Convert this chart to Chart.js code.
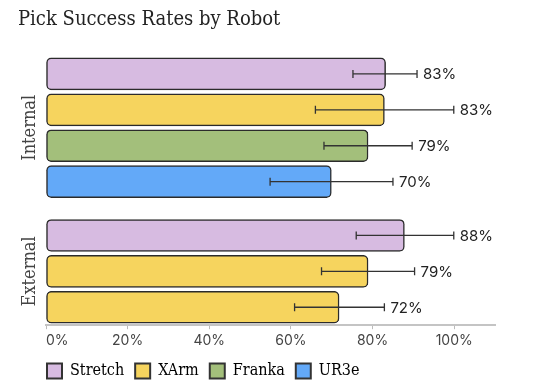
<!DOCTYPE html>
<html>
<head>
<meta charset="utf-8">
<script src="https://cdn.jsdelivr.net/npm/chart.js@4/dist/chart.umd.min.js"></script>
<style>
  html, body { margin: 0; padding: 0; background: #fff; }
  #wrap { width: 548px; height: 391px; }
</style>
</head>
<body>
<div id="wrap"><canvas id="chart" width="548" height="391"></canvas></div>
<script>
// datos
const title = 'Pick Success Rates by Robot';
const groups = ['Internal', 'External'];
const groupOf = [0, 0, 0, 0, 1, 1, 1];
const robotOf = ['Stretch', 'XArm', 'Franka', 'UR3e', 'Stretch', 'XArm', 'XArm'];
const rates = [83.2, 82.9, 78.9, 69.9, 87.8, 78.9, 71.8];
const errLow = [75.2, 66.0, 68.1, 54.9, 76.0, 67.5, 60.9];
const errHigh = [90.9, 99.9, 89.7, 85.0, 99.9, 90.3, 82.9];
const xTicks = [0, 20, 40, 60, 80, 100];

const robots = ['Stretch', 'XArm', 'Franka', 'UR3e'];
const robotColors = {
  Stretch: '#d7bbe1',
  XArm: '#f6d45e',
  Franka: '#a3bf7b',
  UR3e: '#63a9f8'
};

const serif = '"DejaVu Serif Condensed", "DejaVu Serif", serif';
const sans = 'Inter, "Noto Sans", sans-serif';

// posicion de cada barra: medio hueco entre grupos
const positions = rates.map((v, i) => i + groupOf[i] * 0.5);

// titulo, etiquetas de grupo, barras de error y porcentajes
const extras = {
  id: 'extras',
  afterDatasetsDraw(chart) {
    const { ctx, scales: { x, y } } = chart;
    ctx.save();

    // barras de error
    ctx.strokeStyle = '#333';
    ctx.lineWidth = 1.3;
    rates.forEach((v, i) => {
      const py = y.getPixelForValue(positions[i]);
      const x0 = x.getPixelForValue(errLow[i]);
      const x1 = x.getPixelForValue(errHigh[i]);
      ctx.beginPath();
      ctx.moveTo(x0, py); ctx.lineTo(x1, py);
      ctx.moveTo(x0, py - 4); ctx.lineTo(x0, py + 4);
      ctx.moveTo(x1, py - 4); ctx.lineTo(x1, py + 4);
      ctx.stroke();
    });

    // porcentajes
    ctx.fillStyle = '#222';
    ctx.font = '15px ' + sans;
    ctx.textAlign = 'left';
    ctx.textBaseline = 'middle';
    rates.forEach((v, i) => {
      const py = y.getPixelForValue(positions[i]);
      ctx.fillText(Math.round(v) + '%', x.getPixelForValue(errHigh[i]) + 6, py + 1);
    });

    // titulo
    ctx.fillStyle = '#222';
    ctx.font = '20px ' + serif;
    ctx.textBaseline = 'alphabetic';
    ctx.fillText(title, 18, 25);

    // etiquetas de grupo (verticales)
    ctx.fillStyle = '#444';
    ctx.font = '18px ' + serif;
    ctx.textAlign = 'center';
    groups.forEach((g, gi) => {
      const ps = positions.filter((p, i) => groupOf[i] === gi);
      const mid = (y.getPixelForValue(ps[0]) + y.getPixelForValue(ps[ps.length - 1])) / 2;
      ctx.save();
      ctx.translate(35, mid);
      ctx.rotate(-Math.PI / 2);
      ctx.fillText(g, 0, 0);
      ctx.restore();
    });

    ctx.restore();
  }
};

new Chart(document.getElementById('chart'), {
  type: 'bar',
  data: {
    datasets: [{
      data: rates.map((v, i) => ({ x: v, y: positions[i] })),
      backgroundColor: robotOf.map(r => robotColors[r]),
      borderColor: '#2b2b2b',
      borderWidth: 1.5,
      borderRadius: 5,
      borderSkipped: false,
      barThickness: 32
    }]
  },
  options: {
    indexAxis: 'y',
    responsive: false,
    animation: false,
    layout: { padding: { left: 36, right: 53, top: 56, bottom: 2 } },
    scales: {
      x: {
        type: 'linear',
        min: 0,
        max: 110,
        afterBuildTicks: (s) => { s.ticks = xTicks.concat([110]).map(v => ({ value: v })); },
        ticks: {
          align: 'inner',
          padding: 3,
          color: '#444',
          font: { family: sans, size: 14 },
          callback: (v) => (xTicks.includes(v) ? v + '%' : '')
        },
        grid: {
          drawOnChartArea: false,
          tickLength: 4,
          color: (c) => (c.tick && xTicks.includes(c.tick.value) ? '#bbb' : 'rgba(0,0,0,0)')
        },
        border: { display: true, color: '#c4c4c4', width: 2 }
      },
      y: {
        type: 'linear',
        reverse: true,
        offset: false,
        min: -0.5,
        max: 7,
        ticks: { display: false },
        grid: { display: false },
        border: { display: false },
        afterFit: (s) => { s.width = 10; }
      }
    },
    plugins: {
      legend: {
        position: 'bottom',
        align: 'start',
        labels: {
          boxWidth: 15,
          boxHeight: 15,
          padding: 11,
          color: '#444',
          font: { family: serif, size: 16 },
          generateLabels: () => robots.map(r => ({
            text: r,
            fillStyle: robotColors[r],
            strokeStyle: '#333',
            lineWidth: 2
          }))
        }
      },
      tooltip: { enabled: false }
    }
  },
  plugins: [extras]
});
</script>
</body>
</html>
